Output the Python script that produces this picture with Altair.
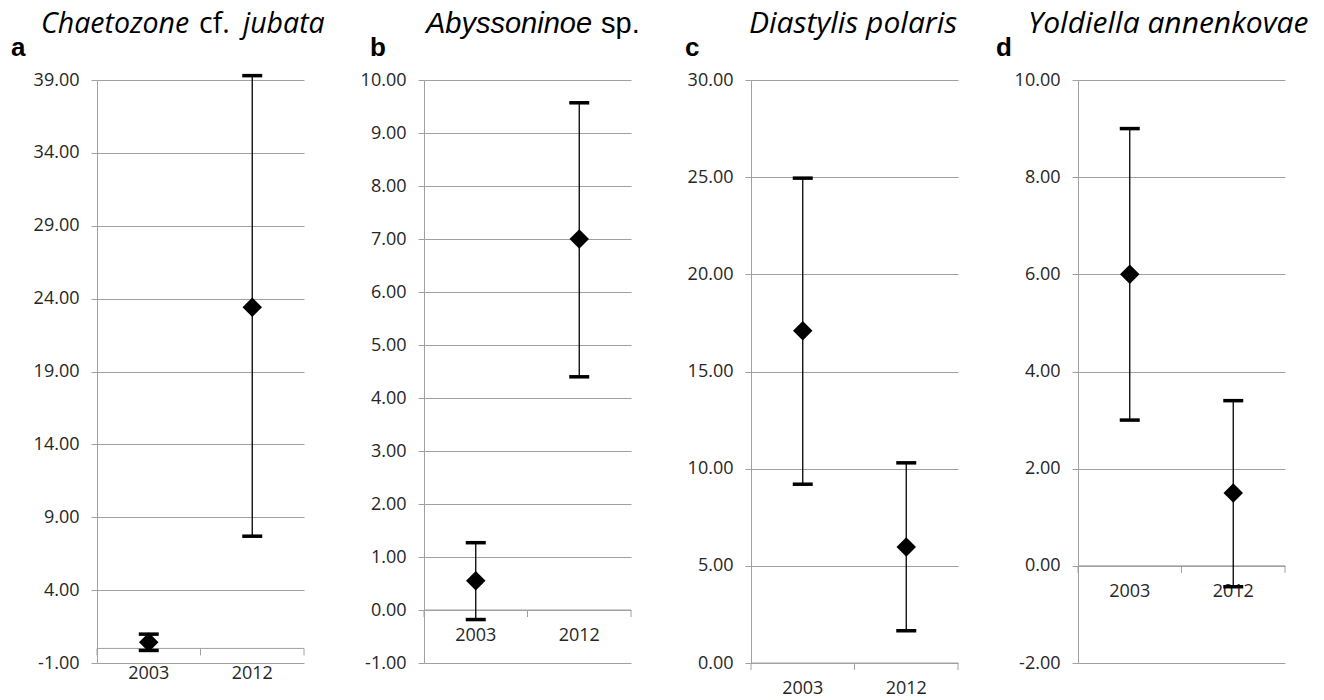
import altair as alt
import pandas as pd

years = ["2003", "2012"]
xpos = [0.5, 1.5]

a_mean = [0.42, 23.4]
a_low = [-0.14, 7.7]
a_high = [0.98, 39.3]
a_ticks = [-1, 4, 9, 14, 19, 24, 29, 34, 39]

b_mean = [0.55, 7.0]
b_low = [-0.18, 4.4]
b_high = [1.27, 9.57]
b_ticks = [-1, 0, 1, 2, 3, 4, 5, 6, 7, 8, 9, 10]

c_mean = [17.1, 5.97]
c_low = [9.2, 1.66]
c_high = [24.95, 10.3]
c_ticks = [0, 5, 10, 15, 20, 25, 30]

d_mean = [6.0, 1.5]
d_low = [3.0, -0.43]
d_high = [9.0, 3.4]
d_ticks = [-2, 0, 2, 4, 6, 8, 10]

GRID = "#a0a0a0"
FONT = "Open Sans"
W, H = 207, 583
LABEL_EXPR = "datum.value < 0 ? '-' + format(-datum.value, '.2f') : format(datum.value, '.2f')"


def make_panel(letter, letter_x, parts, mean, low, high, ticks):
    df = pd.DataFrame({"year": years, "xp": xpos, "mean": mean, "low": low, "high": high})
    xs = alt.Scale(domain=[0, 2], nice=False, zero=False)
    ys = alt.Scale(domain=[ticks[0], ticks[-1]], nice=False, zero=False)
    yaxis = alt.Axis(values=ticks, labelExpr=LABEL_EXPR, grid=True, gridColor=GRID, gridWidth=1,
                     domainColor=GRID, tickColor=GRID, tickSize=6, labelPadding=12,
                     labelFont=FONT, labelFontSize=18, labelColor="#262626", title="")

    zero_df = pd.DataFrame({"x0": [0], "x1": [2], "y": [0]})
    tick_df = pd.DataFrame({"t": [0, 1, 2], "y": [0, 0, 0]})

    zero_line = alt.Chart(zero_df).mark_rule(color=GRID, strokeWidth=1).encode(
        x=alt.X("x0:Q", scale=xs, axis=None),
        x2="x1:Q",
        y=alt.Y("y:Q", scale=ys, axis=yaxis),
    )
    xticks = alt.Chart(tick_df).mark_rule(color=GRID, strokeWidth=1, y2Offset=7).encode(
        x=alt.X("t:Q", scale=xs, axis=None),
        y=alt.Y("y:Q", scale=ys, axis=yaxis),
        y2="y:Q",
    )
    xlabels = alt.Chart(tick_df.iloc[:2].assign(xp=xpos, lab=years)).mark_text(
        dy=26, font=FONT, fontSize=18, color="#262626", baseline="middle"
    ).encode(
        x=alt.X("xp:Q", scale=xs, axis=None),
        y=alt.Y("y:Q", scale=ys, axis=yaxis),
        text="lab:N",
    )
    bars = alt.Chart(df).mark_rule(color="black", strokeWidth=1.3).encode(
        x=alt.X("xp:Q", scale=xs, axis=None),
        y=alt.Y("low:Q", scale=ys, axis=yaxis),
        y2="high:Q",
    )
    caps_hi = alt.Chart(df).mark_rule(color="black", strokeWidth=3.5, xOffset=-10, x2Offset=10).encode(
        x=alt.X("xp:Q", scale=xs, axis=None),
        x2="xp:Q",
        y=alt.Y("high:Q", scale=ys, axis=yaxis),
    )
    caps_lo = alt.Chart(df).mark_rule(color="black", strokeWidth=3.5, xOffset=-10, x2Offset=10).encode(
        x=alt.X("xp:Q", scale=xs, axis=None),
        x2="xp:Q",
        y=alt.Y("low:Q", scale=ys, axis=yaxis),
    )
    pts = alt.Chart(df).mark_point(shape="diamond", filled=True, size=380, color="black", opacity=1).encode(
        x=alt.X("xp:Q", scale=xs, axis=None),
        y=alt.Y("mean:Q", scale=ys, axis=yaxis),
    )
    layers = [zero_line, xticks, xlabels, bars, caps_hi, caps_lo, pts]
    for text, italic, x, fnt, size in parts:
        layers.append(
            alt.Chart(pd.DataFrame({"t": [text]})).mark_text(
                align="left", baseline="alphabetic", font=fnt, fontSize=size,
                fontStyle="italic" if italic else "normal", color="black"
            ).encode(text="t:N", x=alt.value(x), y=alt.value(-47))
        )
    layers.append(
        alt.Chart(pd.DataFrame({"t": [letter]})).mark_text(
            align="left", baseline="alphabetic", font="Liberation Sans", fontSize=26,
            fontWeight="bold", color="black"
        ).encode(text="t:N", x=alt.value(letter_x), y=alt.value(-24))
    )
    return alt.layer(*layers).properties(width=W, height=H)


TF = "Open Sans"
pa = make_panel("a", -86, [("Chaetozone", True, -56, TF, 28.5), ("cf.", False, 102, TF, 28.5),
                           ("jubata", True, 146, TF, 28.5)], a_mean, a_low, a_high, a_ticks)
pb = make_panel("b", -54, [("Abyssoninoe", True, 2, "Liberation Sans", 29),
                           ("sp.", False, 177, "Liberation Sans", 29)], b_mean, b_low, b_high, b_ticks)
pc = make_panel("c", -66, [("Diastylis polaris", True, -2, TF, 30)], c_mean, c_low, c_high, c_ticks)
pd_ = make_panel("d", -82, [("Yoldiella annenkovae", True, -50, TF, 30)], d_mean, d_low, d_high, d_ticks)

chart = alt.hconcat(pa, pb, pc, pd_, spacing=120, bounds="flush").properties(
    padding={"left": 10, "top": 8, "right": 5, "bottom": 0}
).configure_view(stroke="transparent")

chart.save("out.html", embed_options={"renderer": "svg", "actions": False})
